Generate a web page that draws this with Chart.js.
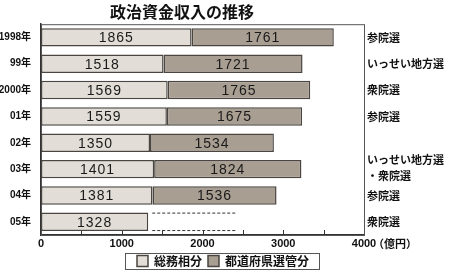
<!DOCTYPE html>
<html>
<head>
<meta charset="utf-8">
<script src="https://cdn.jsdelivr.net/npm/chart.js@4"></script>
<style>
  html, body { margin: 0; padding: 0; background: #fff; }
  #wrap { width: 450px; height: 277px; position: relative; }
</style>
</head>
<body>
<div id="wrap"><canvas id="fundChart"></canvas></div>
<script>
// --- data ---
const years = ['1998年', '99年', '2000年', '01年', '02年', '03年', '04年', '05年'];
const soumu = [1865, 1518, 1569, 1559, 1350, 1401, 1381, 1328];        // 総務相分
const todofuken = [1761, 1721, 1765, 1675, 1534, 1824, 1536, null];   // 都道府県選管分
const pending = [null, null, null, null, null, null, null, 1100];     // 05年 未集計（点線）
const elections = ['参院選', 'いっせい地方選', '衆院選', '参院選', '', ['いっせい地方選', '・衆院選'], '参院選', '衆院選'];
const xTicks = [0, 1000, 2000, 3000, 4000];

const FONT = "'Liberation Sans', 'Noto Sans CJK JP', sans-serif";
const JP = "'Noto Sans CJK JP', sans-serif";
const LEGEND_SHIFT = 41;

// labels, dashed box, frame, small ticks, side notes
const extras = {
  id: 'extras',
  afterLayout(chart) {
    // centre the legend under the whole picture, not only the plot
    const lg = chart.legend;
    if (!lg) return;
    lg.left += LEGEND_SHIFT;
    lg.right += LEGEND_SHIFT;
    lg.legendHitBoxes.forEach(h => { h.left += LEGEND_SHIFT; });
  },
  beforeDatasetsDraw(chart) {
    const { ctx, chartArea: a } = chart;
    ctx.save();
    ctx.strokeStyle = '#555';
    ctx.lineWidth = 1;
    ctx.strokeRect(a.left + 0.5, a.top + 0.5, a.right - a.left, a.bottom - a.top);
    // small tick marks every 500, pointing up
    const xs = chart.scales.x;
    ctx.strokeStyle = '#333';
    for (let v = 500; v < 4000; v += 500) {
      const px = Math.round(xs.getPixelForValue(v)) + 0.5;
      ctx.beginPath();
      ctx.moveTo(px, a.bottom);
      ctx.lineTo(px, a.bottom - 5);
      ctx.stroke();
    }
    ctx.restore();
  },
  afterDatasetsDraw(chart) {
    const { ctx, chartArea: a } = chart;
    ctx.save();
    // values inside segments
    ctx.font = '14px ' + FONT;
    ctx.letterSpacing = '1px';
    ctx.fillStyle = '#1a1a1a';
    ctx.textAlign = 'center';
    ctx.textBaseline = 'middle';
    [0, 1].forEach(di => {
      const meta = chart.getDatasetMeta(di);
      meta.data.forEach((el, i) => {
        const v = chart.data.datasets[di].data[i];
        if (v == null) return;
        ctx.fillText(String(v), (el.base + el.x) / 2, el.y + 1);
      });
    });
    ctx.letterSpacing = '0px';
    // dashed placeholder for 05
    const pm = chart.getDatasetMeta(2);
    ctx.strokeStyle = '#333';
    ctx.setLineDash([3, 2]);
    pm.data.forEach((el, i) => {
      if (pending[i] == null) return;
      const h = el.height / 2;
      [el.y - h + 0.5, el.y + h - 0.5].forEach(yy => {
        ctx.beginPath();
        ctx.moveTo(el.base + 4, yy);
        ctx.lineTo(el.x, yy);
        ctx.stroke();
      });
    });
    ctx.setLineDash([]);
    // election notes on the right
    const ys = chart.scales.y;
    ctx.font = 'bold 11px ' + JP;
    ctx.fillStyle = '#111';
    ctx.textAlign = 'left';
    elections.forEach((t, i) => {
      const cy = ys.getPixelForValue(i);
      if (Array.isArray(t)) {
        ctx.fillText(t[0], a.right + 3, cy - 9);
        ctx.fillText(t[1], a.right + 3, cy + 7);
      } else if (t) {
        ctx.fillText(t, a.right + 3, cy);
      }
    });
    // unit
    ctx.font = 'bold 11px ' + JP;
    ctx.fillText('（億円）', a.right + 9, a.bottom + 9);
    ctx.restore();
  },
  afterDraw(chart) {
    const lg = chart.legend;
    if (!lg || !lg.legendHitBoxes.length) return;
    const { ctx } = chart;
    const boxes = lg.legendHitBoxes;
    const l = boxes[0].left - 12;
    const r = boxes[boxes.length - 1].left + boxes[boxes.length - 1].width + 10;
    const t = boxes[0].top - 2;
    const b = boxes[0].top + boxes[0].height + 2;
    ctx.save();
    ctx.strokeStyle = '#555';
    ctx.lineWidth = 1;
    ctx.strokeRect(Math.round(l) + 0.5, Math.round(t) + 0.5, Math.round(r - l), Math.round(b - t));
    ctx.restore();
  }
};

new Chart(document.getElementById('fundChart'), {
  type: 'bar',
  data: {
    labels: years,
    datasets: [
      {
        label: '総務相分',
        data: soumu,
        backgroundColor: '#e2ded7',
        borderColor: '#4a4540',
        borderWidth: 1.5,
        borderSkipped: false
      },
      {
        label: '都道府県選管分',
        data: todofuken,
        backgroundColor: '#a89e92',
        borderColor: '#4a4540',
        borderWidth: 1.5,
        borderSkipped: false
      },
      {
        label: 'pending',
        data: pending,
        backgroundColor: 'rgba(0,0,0,0)',
        borderWidth: 0
      }
    ]
  },
  options: {
    indexAxis: 'y',
    responsive: true,
    maintainAspectRatio: false,
    animation: false,
    datasets: { bar: { categoryPercentage: 1, barPercentage: 0.7 } },
    layout: { padding: { left: 0, right: 86, top: 0, bottom: 0 } },
    plugins: {
      tooltip: { enabled: false },
      title: {
        display: true,
        text: '政治資金収入の推移',
        color: '#111',
        font: { family: JP, size: 16, weight: 'bold', lineHeight: 1.2 },
        padding: { top: 2, bottom: 3 }
      },
      legend: {
        position: 'bottom',
        labels: {
          filter: item => item.datasetIndex < 2,
          color: '#111',
          font: { family: JP, size: 12, weight: 'bold' },
          boxWidth: 11,
          boxHeight: 11,
          padding: 6
        }
      }
    },
    scales: {
      x: {
        stacked: true,
        min: 0,
        max: 4000,
        grid: { display: false, drawTicks: false, tickLength: 0 },
        border: { display: true, color: '#333', width: 1.5 },
        afterBuildTicks: s => { s.ticks = xTicks.map(v => ({ value: v })); },
        afterFit: s => { s.height = 14; },
        ticks: {
          color: '#111',
          padding: 2,
          maxRotation: 0,
          callback: v => String(v),
          font: { family: FONT, size: 11, weight: 'bold' }
        }
      },
      y: {
        stacked: true,
        grid: { display: false },
        border: { display: true, color: '#333', width: 1.5 },
        afterFit: s => { s.width = 41; },
        ticks: {
          color: '#111',
          padding: 2,
          font: { family: FONT, size: 10, weight: 'bold' }
        }
      }
    }
  },
  plugins: [extras]
});
</script>
</body>
</html>
